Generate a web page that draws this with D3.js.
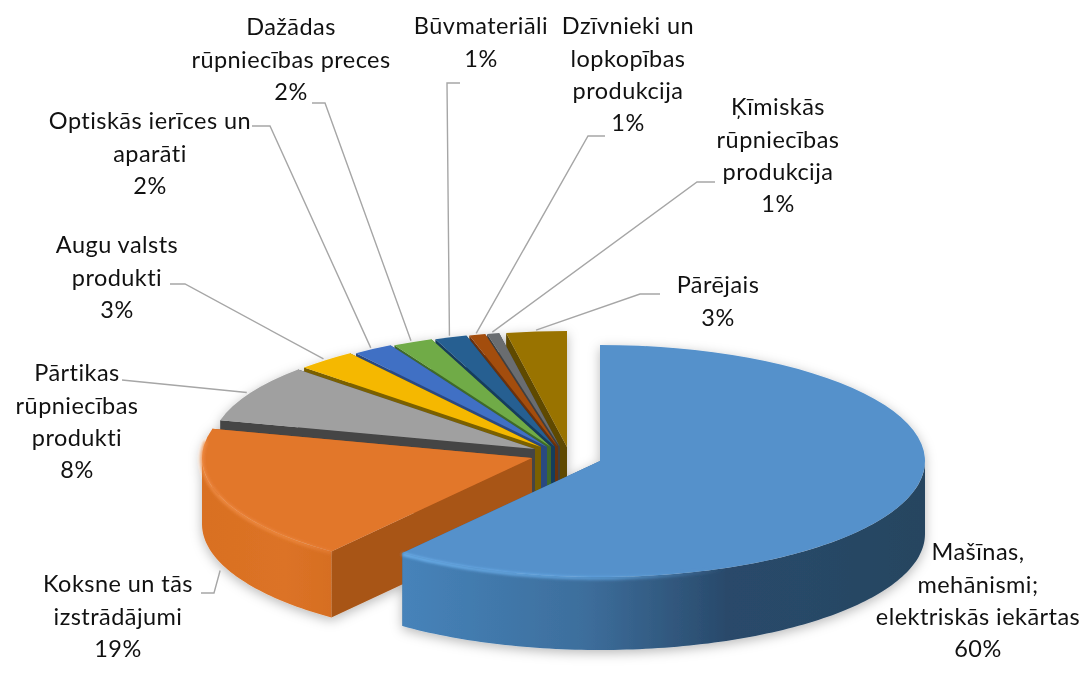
<!DOCTYPE html>
<html><head><meta charset="utf-8">
<style>html,body{margin:0;background:#fff}svg{display:block}text{font-family:Lato,"Noto Sans",sans-serif;font-size:23.5px;letter-spacing:.45px;fill:#111}</style>
<script src="https://cdn.jsdelivr.net/npm/d3@7"></script></head><body>
<script>
const categories=["Mašīnas, mehānismi; elektriskās iekārtas","Koksne un tās izstrādājumi","Pārtikas rūpniecības produkti","Augu valsts produkti","Optiskās ierīces un aparāti","Dažādas rūpniecības preces","Būvmateriāli","Dzīvnieki un lopkopības produkcija","Ķīmiskās rūpniecības produkcija","Pārējais"];
const values=[60.4,18.6,8,3,2,2,1.6,0.8,0.6,3];
const percentLabels=["60%","19%","8%","3%","2%","2%","1%","1%","1%","3%"];
const colors=["#5591cb","#e2772c","#a0a0a0","#f5b800","#4070c4","#70ab47","#255f91","#a34d10","#6a6d70","#997300"];
const wallColors=["#3b6a96","#a85518","#444444","#7a6000","#2c4a80","#3f6a2a","#173c5c","#6a300a","#3e4042","#5f4800"];
// layout of the exploded slices and labels
const sliceCentres=[[600,461],[532,458],[535,449],[541,447],[547,447],[551,447],[555,447],[558,447],[560,447],[567,447]];
const sliceRadii=[325,330,325,325,325,325,325,325,325,325];
const sliceDepths=[73,66,66,66,66,66,66,66,66,66];
const labelLines=[["Mašīnas,","mehānismi;","elektriskās iekārtas","60%"],["Koksne un tās","izstrādājumi","19%"],["Pārtikas","rūpniecības","produkti","8%"],["Augu valsts","produkti","3%"],["Optiskās ierīces un","aparāti","2%"],["Dažādas","rūpniecības preces","2%"],["Būvmateriāli","1%"],["Dzīvnieki un","lopkopības","produkcija","1%"],["Ķīmiskās","rūpniecības","produkcija","1%"],["Pārējais","3%"]];
const labelPos=[[978,552],[118,584],[77,373],[117,245],[150,121],[291,27],[481,26],[628,26],[778,107],[718,285]];
const leaders=[null,[[201,593],[214,593]],[[122,380]],[[170,284],[185,284]],[[252,126],[270,126]],[[312,103],[325,103]],[[460,83],[447,83]],[[605,136],[588,136]],[[715,182],[697,182]],[[660,294],[640,294]]];

const W=1085,H=684,ryRatio=116/325,lh=32.3;
const svg=d3.select("body").append("svg").attr("width",W).attr("height",H);
const defs=svg.append("defs");
const f=defs.append("filter").attr("id","sh").attr("x","-10%").attr("y","-10%").attr("width","120%").attr("height","125%");
f.append("feDropShadow").attr("dx",0).attr("dy",3).attr("stdDeviation",6).attr("flood-color","#000").attr("flood-opacity",.28);
defs.append("filter").attr("id","soft").append("feGaussianBlur").attr("stdDeviation",.6);
defs.append("filter").attr("id","glow").append("feGaussianBlur").attr("stdDeviation",1.4);
function grad(id,x1,x2,stops){const g=defs.append("linearGradient").attr("id",id).attr("gradientUnits","userSpaceOnUse").attr("x1",x1).attr("x2",x2).attr("y1",0).attr("y2",0);
 stops.forEach(s=>g.append("stop").attr("offset",s[0]).attr("stop-color",s[1]).attr("stop-opacity",s[2]===undefined?1:s[2]));}
grad("w0",402,925,[[0,"#4683ba"],[.35,"#3d6e9c"],[.62,"#294a6b"],[1,"#274560"]]);
grad("w1",202,340,[[0,"#d97022"],[.6,"#dc7326"],[1,"#d56d22"]]);
grad("h0",402,925,[[0,"#72b6f2"],[.4,"#62a6e2",.9],[.62,"#5591cb",0],[1,"#5591cb",0]]);
grad("h1",202,340,[[0,"#f2904a",.9],[.7,"#f08c42",.8],[1,"#e8813a",.6]]);

const pie=d3.pie().sort(null).value(d=>d);
const arcs=pie(values);
const pt=(i,a,r=1,dz=0)=>[sliceCentres[i][0]+sliceRadii[i]*r*Math.sin(a),sliceCentres[i][1]-sliceRadii[i]*ryRatio*r*Math.cos(a)+dz];
const line=d3.line();
const rimAngles=(a0,a1)=>{const n=Math.max(2,Math.ceil((a1-a0)/0.02));return d3.range(n+1).map(k=>a0+(a1-a0)*k/n);};

const pieG=svg.append("g").attr("filter","url(#sh)").append("g").attr("filter","url(#soft)");
// back to front: the last slices sit at the back of the picture
d3.range(arcs.length-1,-1,-1).forEach(i=>{
 const s=arcs[i],g=pieG.append("g"),wall=wallColors[i],depth=sliceDepths[i];
 [s.endAngle,s.startAngle].forEach(a=>{
  g.append("path").attr("d",line([pt(i,a,0),pt(i,a),pt(i,a,1,depth),pt(i,a,0,depth)])+"Z").attr("fill",wall);
 });
 const a0=Math.max(s.startAngle,Math.PI/2),a1=Math.min(s.endAngle,Math.PI*1.5);
 if(a1>a0){
  const as=rimAngles(a0,a1);
  const top=as.map(a=>pt(i,a)),bot=as.map(a=>pt(i,a,1,depth)).reverse();
  g.append("path").attr("d",line(top.concat(bot))+"Z").attr("fill",i<2?`url(#w${i})`:wall);
 }
 const arcGen=d3.arc().innerRadius(0).outerRadius(sliceRadii[i]);
 g.append("path").attr("d",arcGen(s)).attr("transform",`translate(${sliceCentres[i]}) scale(1,${ryRatio})`).attr("fill",colors[i]);
 if(i<2){
  const from=i==0?s.startAngle+0.9:s.startAngle, to=i==0?s.endAngle:s.endAngle-0.1;
  g.append("path").attr("d",line(rimAngles(from,to).map(a=>pt(i,a,1,1))))
   .attr("fill","none").attr("stroke",`url(#h${i})`).attr("stroke-width",3).attr("filter","url(#glow)");
 }
});

// leader lines end on the rim of their slice
const leaderG=svg.append("g").attr("fill","none").attr("stroke","#a6a6a6").attr("stroke-width",1.4);
arcs.forEach((s,i)=>{
 if(!leaders[i])return;
 const mid=(s.startAngle+s.endAngle)/2;
 const end=i==1?pt(i,mid,1,sliceDepths[i]+8):pt(i,mid,1.012);
 leaderG.append("path").attr("d",line(leaders[i].concat([end])));
});

const labelG=svg.append("g").attr("text-anchor","middle");
labelLines.forEach((ls,i)=>{
 ls.forEach((t,k)=>labelG.append("text").attr("x",labelPos[i][0]).attr("y",labelPos[i][1]+k*lh).attr("dy","0.36em").text(t));
});
</script></body></html>
